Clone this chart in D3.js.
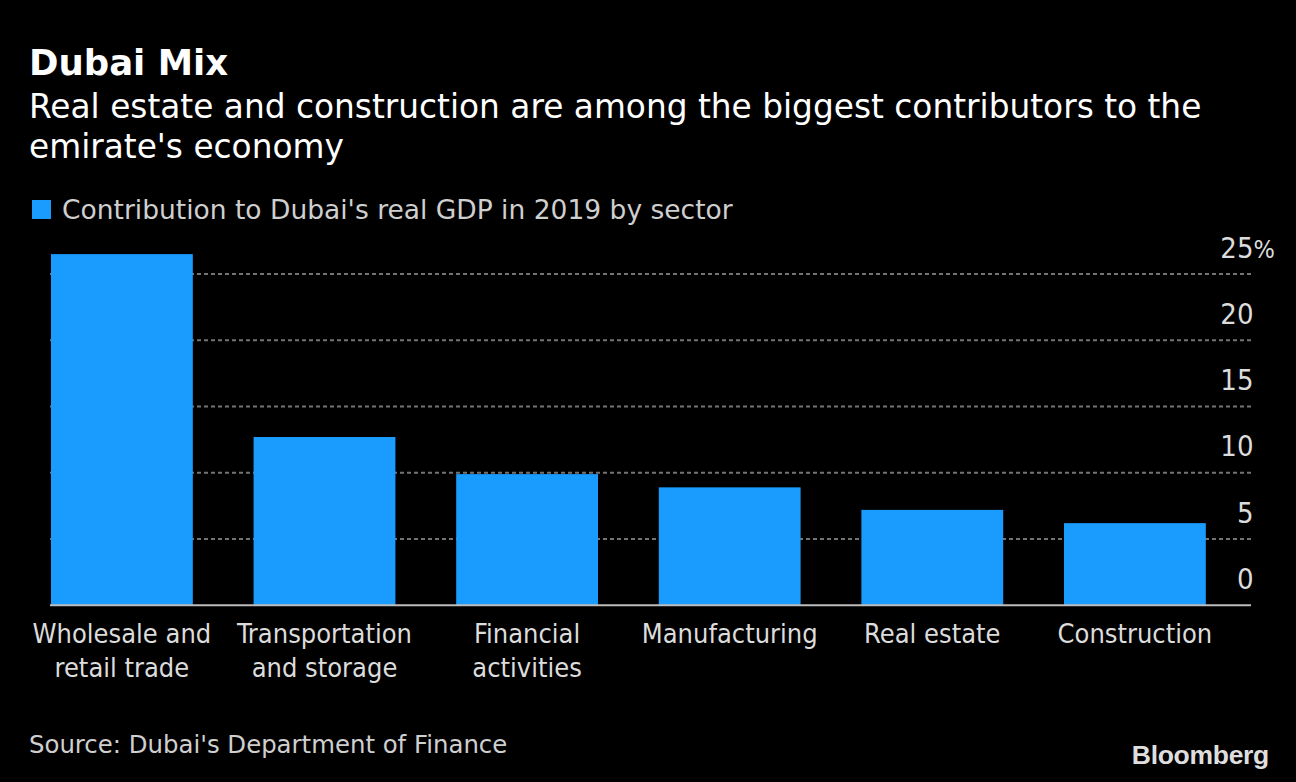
<!DOCTYPE html>
<html>
<head>
<meta charset="utf-8">
<script src="https://cdn.jsdelivr.net/npm/d3@7"></script>
<style>
  html, body { margin: 0; padding: 0; background: #000; }
  svg { display: block; }
</style>
</head>
<body>
<div id="chart"></div>
<script>
// ---- data ----
const categories = [
  ["Wholesale and", "retail trade"],
  ["Transportation", "and storage"],
  ["Financial", "activities"],
  ["Manufacturing"],
  ["Real estate"],
  ["Construction"]
];
const values = [26.5, 12.7, 9.9, 8.9, 7.2, 6.2];
const yTicks = [0, 5, 10, 15, 20, 25];
const gridTicks = [5, 10, 15, 20, 25];

const title = "Dubai Mix";
const subtitle = ["Real estate and construction are among the biggest contributors to the", "emirate's economy"];
const legendLabel = "Contribution to Dubai's real GDP in 2019 by sector";
const source = "Source: Dubai's Department of Finance";

// ---- layout ----
const W = 1296, H = 782;
const barColor = "#1a9cff";
const condensed = "'DejaVu Sans Condensed', 'DejaVu Sans', sans-serif";
const regular = "'DejaVu Sans', sans-serif";

const svg = d3.select("#chart").append("svg")
  .attr("width", W).attr("height", H)
  .style("background", "#000");

const names = categories.map(c => c.join(" "));
const x = d3.scaleBand().domain(names).range([20.6, 1236.2])
  .paddingInner(0.3).paddingOuter(0.15);
const y = d3.scaleLinear().domain([0, 25]).range([605.3, 274]);

const plotLeft = 50, plotRight = 1251;

// title
svg.append("text").attr("x", 29).attr("y", 75)
  .attr("font-family", regular).attr("font-weight", "bold")
  .attr("font-size", 35.5).attr("fill", "#fff").text(title);

// subtitle
svg.append("text").attr("font-family", regular).attr("font-size", 32.8)
  .attr("fill", "#fff")
  .selectAll("tspan").data(subtitle).join("tspan")
  .attr("x", 29).attr("y", (d, i) => 117.5 + i * 40.5).text(d => d);

// legend
svg.append("rect").attr("x", 32).attr("y", 200).attr("width", 19).attr("height", 19)
  .attr("fill", barColor);
svg.append("text").attr("x", 62).attr("y", 219)
  .attr("font-family", regular).attr("font-size", 26.5)
  .attr("fill", "#cfcfcf").text(legendLabel);

// gridlines
svg.append("g").selectAll("line").data(gridTicks).join("line")
  .attr("x1", plotLeft).attr("x2", plotRight)
  .attr("y1", d => y(d)).attr("y2", d => y(d))
  .attr("stroke", "#747474").attr("stroke-width", 2)
  .attr("stroke-dasharray", "4,3");

// bars
svg.append("g").selectAll("rect").data(values).join("rect")
  .attr("x", (d, i) => x(names[i]))
  .attr("width", x.bandwidth())
  .attr("y", d => y(d))
  .attr("height", d => y(0) - y(d))
  .attr("fill", barColor);

// baseline
svg.append("line").attr("x1", plotLeft).attr("x2", plotRight)
  .attr("y1", y(0)).attr("y2", y(0))
  .attr("stroke", "#bdbdbd").attr("stroke-width", 2);

// y axis labels (right side, sitting above their gridlines)
const yAxis = d3.axisRight(y).tickValues(yTicks).tickSize(0).tickPadding(0)
  .tickFormat(d => d);
const gy = svg.append("g").attr("transform", "translate(1253.5,0)").call(yAxis);
gy.select(".domain").remove();
gy.selectAll(".tick text")
  .attr("text-anchor", "start").attr("dy", null).attr("y", -17)
  .attr("font-family", condensed).attr("font-size", 29).attr("fill", "#dcdcdc")
  .each(function (d) {
    // right-align the number on the anchor; "%" hangs to the right
    const t = d3.select(this);
    t.text(null);
    const num = t.append("tspan").text(d);
    const w = num.node().getComputedTextLength();
    t.attr("x", -w);
    if (d === 25) t.append("tspan").attr("font-size", 25).text("%");
  });

// x axis labels
const gx = svg.append("g");
categories.forEach((lines, i) => {
  const cx = x(names[i]) + x.bandwidth() / 2;
  const t = gx.append("text").attr("text-anchor", "middle")
    .attr("font-family", condensed).attr("font-size", 27).attr("fill", "#dcdcdc");
  lines.forEach((l, j) => {
    t.append("tspan").attr("x", cx).attr("y", 643.3 + j * 33.5).text(l);
  });
});

// source
svg.append("text").attr("x", 29).attr("y", 753.3)
  .attr("font-family", regular).attr("font-size", 24.4)
  .attr("fill", "#cfcfcf").text(source);

// logo
svg.append("text").attr("x", 1269).attr("y", 764.3).attr("text-anchor", "end")
  .attr("font-family", "'Liberation Sans', Arial, sans-serif").attr("font-weight", "bold")
  .attr("font-size", 26.5).attr("letter-spacing", -0.3).attr("fill", "#dedede").text("Bloomberg");
</script>
</body>
</html>
